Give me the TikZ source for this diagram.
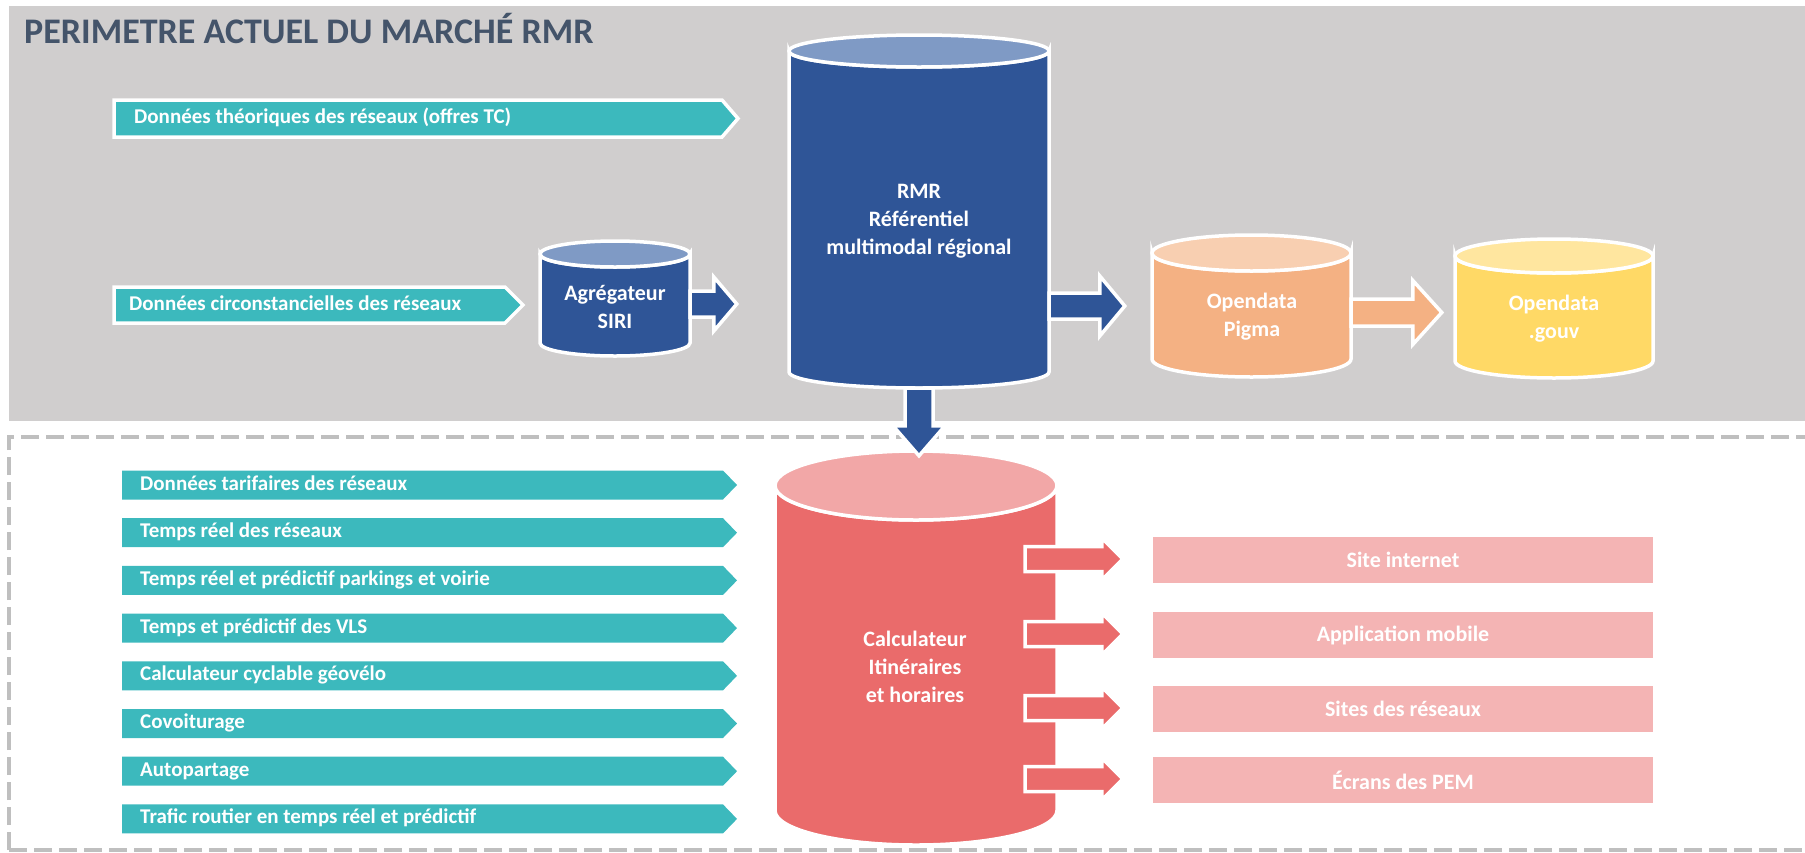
\documentclass[tikz,border=0pt]{standalone}
\usepackage{fontspec}
\setmainfont{Carlito}
\usetikzlibrary{calc}

\definecolor{bandgray}{HTML}{D0CECE}
\definecolor{dashgray}{HTML}{BFBFBF}
\definecolor{titleblue}{HTML}{44546A}
\definecolor{tealbar}{HTML}{3CB9BD}
\definecolor{rmrblue}{HTML}{2F5597}
\definecolor{rmrtop}{HTML}{7F9AC5}
\definecolor{pigbody}{HTML}{F4B183}
\definecolor{pigtop}{HTML}{F8CFB1}
\definecolor{gouvbody}{HTML}{FFD966}
\definecolor{gouvtop}{HTML}{FFE69F}
\definecolor{calcbody}{HTML}{EA6B6B}
\definecolor{calctop}{HTML}{F2A7A7}
\definecolor{outpink}{HTML}{F4B4B4}

\tikzset{
  rim/.style={draw=white, line width=3.5pt, line join=miter},
  dbtext/.style={text=white, font=\bfseries\fontsize{22}{28}\selectfont, align=center, inner sep=0},
  bartext/.style={text=white, font=\bfseries\fontsize{21}{25}\selectfont, inner sep=0, anchor=west,
    text height=14pt, text depth=4pt},
  outbox/.style={fill=outpink, minimum width=500, minimum height=46, inner sep=0, text=white,
    font=\bfseries\fontsize{22}{26}\selectfont},
  blockblue/.style={fill=rmrblue, rim},
  blockpeach/.style={fill=pigbody, rim},
  blockpink/.style={fill=calcbody, rim},
  topbar/.style={fill=tealbar, rim},
  lowbar/.style={fill=tealbar},
}

% database cylinder: name, cx, y top centre, y bottom centre, rx, ry, body colour, top colour
\newcommand\dbcyl[8]{%
  \path[fill=#7, rim] ({#2-#5},#3) -- ({#2-#5},#4)
     arc[start angle=180, end angle=0, x radius=#5, y radius=#6]
     -- ({#2+#5},#3) arc[start angle=0, end angle=180, x radius=#5, y radius=#6] -- cycle;
  \path[fill=#8, rim] (#2,#3) ellipse[x radius=#5, y radius=#6];
  \node[inner sep=0, minimum width={2*#5}, minimum height={#4-#3}] (#1) at (#2,{(#3+#4)/2}) {};
}

% block arrow pointing right: style, tail, tip, shaft half, head half, head length
\newcommand\blockR[6]{%
  \path[#1] let \p1=(#2), \p2=(#3) in
    (\x1,\y1-#4) -- (\x2-#6,\y1-#4) -- (\x2-#6,\y1-#5) -- (\x2,\y1)
    -- (\x2-#6,\y1+#5) -- (\x2-#6,\y1+#4) -- (\x1,\y1+#4) -- cycle;
}
% block arrow pointing down: style, tail, tip, shaft half, head half, head length
\newcommand\blockD[6]{%
  \path[#1] let \p1=(#2), \p2=(#3) in
    (\x1-#4,\y1) -- (\x1-#4,\y2+#6) -- (\x1-#5,\y2+#6) -- (\x1,\y2)
    -- (\x1+#5,\y2+#6) -- (\x1+#4,\y2+#6) -- (\x1+#4,\y1) -- cycle;
}

\begin{document}
\begin{tikzpicture}[x=1pt, y=-1pt]
\useasboundingbox (0,0) rectangle (1805,852);

% upper band: current scope
\fill[bandgray] (9,6) rectangle (1815,421);
\node[anchor=base west, text=titleblue, font=\bfseries\fontsize{36}{40}\selectfont, inner sep=0]
  (title) at (24,43) {PERIMETRE ACTUEL DU MARCHÉ RMR};

% lower frame: extensions
\draw[dashgray, line width=4pt, dash pattern=on 18pt off 7pt] (9,850) -- (9,437) -- (1815,437);
\draw[dashgray, line width=4pt, dash pattern=on 18pt off 7pt] (9,850) -- (1815,850);

% input flows of the upper band
\path[topbar] (114,100) -- (722,100) -- (738,118.5) -- (722,137) -- (114,137) -- cycle;
\node[bartext] (theo) at (134,118.5) {Données théoriques des réseaux (offres TC)};
\path[topbar] (114,287) -- (505,287) -- (523,305) -- (505,323) -- (114,323) -- cycle;
\node[bartext] (circ) at (129,305) {Données circonstancielles des réseaux};

% databases
\dbcyl{agg}{615}{254}{343}{75}{13}{rmrblue}{rmrtop}
\dbcyl{calc}{916}{485.5}{810.5}{141}{34.5}{calcbody}{calctop}
\dbcyl{rmr}{919}{51}{372}{130}{16}{rmrblue}{rmrtop}
\blockD{blockblue}{$(rmr.south)+(0,16)$}{$(calc.north)+(0,-29.5)$}{14}{26}{30}
\dbcyl{pig}{1251.5}{253}{359}{99.5}{18}{pigbody}{pigtop}
\dbcyl{gouv}{1554}{256}{361}{99}{17}{gouvbody}{gouvtop}

\node[dbtext] (aggtxt) at (615,306.5) {Agrégateur\\SIRI};
\node[dbtext] (rmrtxt) at (919,221) {RMR\\Référentiel\\multimodal régional};
\node[dbtext] (pigtxt) at (1252,316.5) {Opendata\\Pigma};
\node[dbtext] (gouvtxt) at (1554,318.5) {Opendata\\.gouv};
\node[dbtext] (calctxt) at (915,667) {Calculateur\\Itinéraires\\et horaires};

% flows between databases
\blockR{blockblue}{$(agg.east)+(0,5.5)$}{$(rmr.west)+(-52,0)$}{13}{27}{23}
\blockR{blockblue}{rmr.east |- pig.center}{$(pig.west)+(-27,0)$}{13}{30}{25}
\blockR{blockpeach}{$(pig.east)+(0,6.5)$}{$(gouv.west)+(-13,0)$}{13.5}{32}{29}

% input flows of the lower frame
\foreach \t [count=\i from 0] in {Données tarifaires des réseaux, Temps réel des réseaux,
    Temps réel et prédictif parkings et voirie, Temps et prédictif des VLS,
    Calculateur cyclable géovélo, Covoiturage, Autopartage,
    Trafic routier en temps réel et prédictif} {
  \pgfmathsetmacro\yy{485+47.7*\i}
  \path[lowbar] (122,\yy-14.5) -- (723,\yy-14.5) -- (737,\yy) -- (723,\yy+14.5) -- (122,\yy+14.5) -- cycle;
  \node[bartext] (in\i) at (140,\yy) {\t};
}

% outputs
\node[outbox] (o1) at (1403,560) {Site internet};
\node[outbox] (o2) at (1403,635) {Application mobile};
\node[outbox] (o3) at (1403,709) {Sites des réseaux};
\node[outbox] (o4) at (1403,780) {Écrans des PEM};
\foreach \o in {o1,o2,o3,o4} {
  \blockR{blockpink}{$(calc.east |- \o.west)+(-32,-1)$}{$(\o.west)+(-30,0)$}{12.5}{21}{21}
}
\end{tikzpicture}
\end{document}
